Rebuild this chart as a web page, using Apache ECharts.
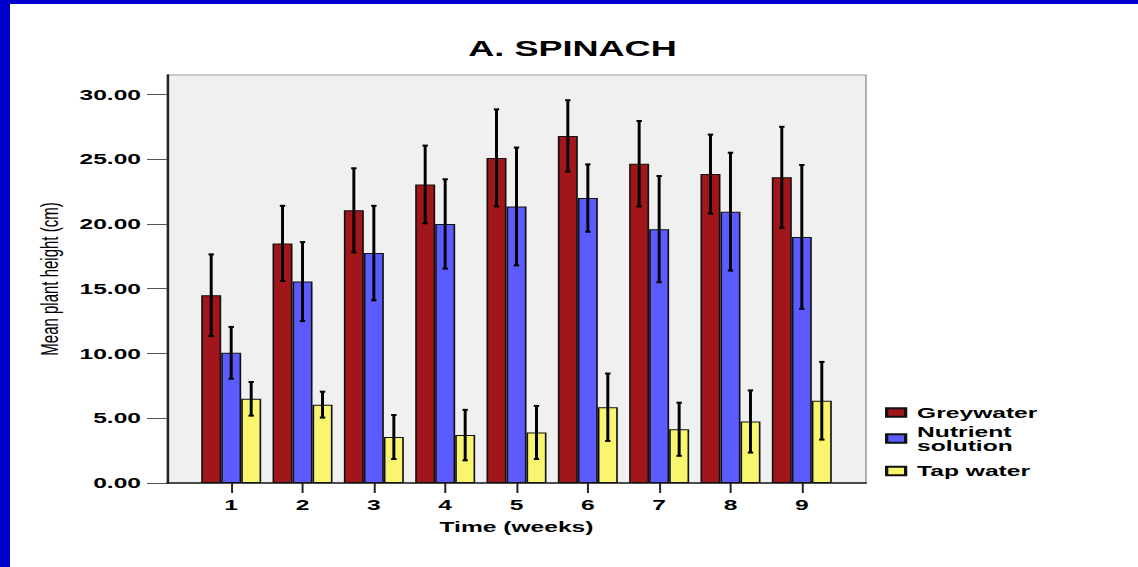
<!DOCTYPE html>
<html>
<head>
<meta charset="utf-8">
<title>A. SPINACH</title>
<script src="https://cdn.jsdelivr.net/npm/echarts@6/dist/echarts.min.js"></script>
<style>
  html, body { margin: 0; padding: 0; background: #fff; }
  #page { position: absolute; left: 0; top: 0; width: 1138px; height: 567px; background: #0000cc; overflow: hidden; }
  #paper { position: absolute; left: 10px; top: 4px; right: 0; bottom: 0; background: #fff; }
  #chart { position: absolute; left: 0; top: 0; height: 567px; transform-origin: 0 0; }
</style>
</head>
<body>
<div id="page"><div id="paper"></div><div id="chart"></div></div>
<script>
// weeks on the x axis
const weeks = [1, 2, 3, 4, 5, 6, 7, 8, 9];
const yTicks = [0, 5, 10, 15, 20, 25, 30];

// mean plant height (cm) and error bar half-lengths
const greywater = [14.5, 18.5, 21.05, 23.05, 25.1, 26.8, 24.65, 23.85, 23.6];
const greywaterErr = [3.15, 2.9, 3.25, 3.0, 3.75, 2.75, 3.3, 3.05, 3.9];
const nutrient = [10.05, 15.55, 17.75, 20.0, 21.35, 22.0, 19.6, 20.95, 19.0];
const nutrientErr = [2.0, 3.05, 3.65, 3.45, 4.55, 2.6, 4.1, 4.55, 5.55];
const tapWater = [6.5, 6.05, 3.55, 3.7, 3.9, 5.85, 4.15, 4.75, 6.35];
const tapWaterErr = [1.3, 1.0, 1.7, 1.95, 2.05, 2.6, 2.05, 2.4, 3.0];

// the original picture is stretched horizontally, so draw narrow and scale
const SX = 1.64;
const px = function (v) { return v / SX; };

const FONT = "'Liberation Sans', Arial, sans-serif";
const barW = px(20);

const el = document.getElementById('chart');
el.style.width = (1138 / SX) + 'px';
el.style.transform = 'scaleX(' + SX + ')';

const chart = echarts.init(el, null, { renderer: 'svg' });

const barSeries = function (name, values, color) {
  return {
    name: name,
    type: 'bar',
    barWidth: barW,
    barGap: '0%',
    data: weeks.map(function (w, i) { return [w, values[i]]; }),
    itemStyle: { color: color, borderColor: '#111', borderWidth: 1 }
  };
};

const errorSeries = function (values, errs, k) {
  return {
    type: 'custom',
    z: 5,
    silent: true,
    data: weeks.map(function (w, i) { return [w, values[i], errs[i]]; }),
    renderItem: function (params, api) {
      const x = api.value(0);
      const m = api.value(1);
      const e = api.value(2);
      const hi = api.coord([x, m + e]);
      const lo = api.coord([x, m - e]);
      const cx = hi[0] + k * barW;
      const cap = px(2.7);
      return {
        type: 'group',
        children: [
          { type: 'line', shape: { x1: cx, y1: hi[1], x2: cx, y2: lo[1] }, style: { stroke: '#000', lineWidth: 1.8 } },
          { type: 'line', shape: { x1: cx - cap, y1: hi[1], x2: cx + cap, y2: hi[1] }, style: { stroke: '#000', lineWidth: 2 } },
          { type: 'line', shape: { x1: cx - cap, y1: lo[1], x2: cx + cap, y2: lo[1] }, style: { stroke: '#000', lineWidth: 2 } }
        ]
      };
    }
  };
};

const legendBase = {
  orient: 'vertical',
  left: px(885),
  padding: 0,
  icon: 'rect',
  itemWidth: px(19),
  itemHeight: 8.3,
  selectedMode: false,
  textStyle: { fontFamily: FONT, fontSize: 15, fontWeight: 'bold', color: '#000', lineHeight: 14, padding: [0, 0, 0, 2] }
};

chart.setOption({
  animation: false,
  textStyle: { fontFamily: FONT },
  title: {
    text: 'A. SPINACH',
    left: px(572.5),
    textAlign: 'center',
    top: 37,
    padding: 0,
    textStyle: { fontFamily: FONT, fontSize: 22, fontWeight: 'bold', color: '#000' }
  },
  legend: [
    Object.assign({}, legendBase, { data: ['Greywater'], top: 405 }),
    Object.assign({}, legendBase, {
      data: ['Nutrient solution'],
      top: 424,
      formatter: function (n) { return n.replace(' ', '\n'); }
    }),
    Object.assign({}, legendBase, { data: ['Tap water'], top: 463.5 })
  ],
  grid: {
    left: px(167),
    top: 75,
    width: px(699),
    height: 408,
    show: true,
    backgroundColor: '#f0f0f0',
    borderColor: '#a0a0a0',
    borderWidth: 1
  },
  xAxis: {
    type: 'value',
    min: 0.1,
    max: 9.9,
    name: 'Time (weeks)',
    nameLocation: 'middle',
    nameGap: 36,
    nameTextStyle: { fontFamily: FONT, fontSize: 15, fontWeight: 'bold', color: '#000' },
    axisLine: { lineStyle: { color: '#222', width: 1.5 } },
    axisTick: { customValues: weeks, length: 10, lineStyle: { color: '#222', width: 1.2 } },
    axisLabel: { customValues: weeks, margin: 14, fontFamily: FONT, fontSize: 15, fontWeight: 'bold', color: '#000' },
    splitLine: { show: false }
  },
  yAxis: {
    type: 'value',
    min: 0,
    max: 31.5,
    name: 'Mean plant height (cm)',
    nameLocation: 'middle',
    nameGap: 61,
    nameTextStyle: { fontFamily: FONT, fontSize: 15, color: '#000' },
    axisLine: { show: true, lineStyle: { color: '#222', width: 1.3 } },
    axisTick: { show: true, customValues: yTicks, length: px(20), lineStyle: { color: '#555', width: 1 } },
    axisLabel: {
      customValues: yTicks,
      margin: px(26),
      fontFamily: FONT,
      fontSize: 15,
      fontWeight: 'bold',
      color: '#000',
      formatter: function (v) { return v.toFixed(2); }
    },
    splitLine: { show: false }
  },
  series: [
    barSeries('Greywater', greywater, '#a0161a'),
    barSeries('Nutrient solution', nutrient, '#5b5bff'),
    barSeries('Tap water', tapWater, '#f9f56e'),
    errorSeries(greywater, greywaterErr, -1),
    errorSeries(nutrient, nutrientErr, 0),
    errorSeries(tapWater, tapWaterErr, 1)
  ]
});
</script>
</body>
</html>
